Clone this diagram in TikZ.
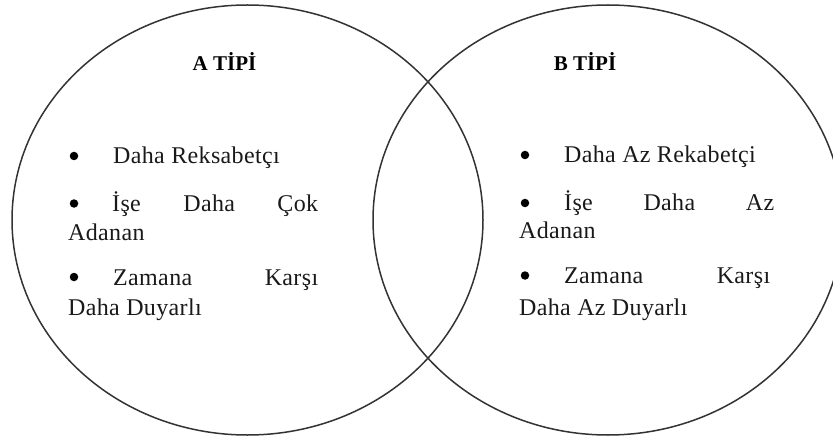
\documentclass[tikz,border=0pt]{standalone}
\usepackage{fontspec}
\setmainfont{Liberation Serif}
\newfontfamily\bodyfont[LetterSpace=1.5]{Liberation Serif}
\usetikzlibrary{shapes.geometric}
\tikzset{
  venn/.style={draw=black!80, line width=1.5pt, ellipse, inner sep=0pt},
  ttl/.style={font=\fontsize{21}{21}\selectfont\bfseries, anchor=base, inner sep=0pt},
  txt/.style={font=\bodyfont\fontsize{24}{24}\selectfont, anchor=base west, inner sep=0pt, text=black!90},
  bul/.style={circle, fill=black, minimum size=8.5pt, inner sep=0pt}
}
\begin{document}
\begin{tikzpicture}[x=1pt,y=-1pt]
\useasboundingbox (0,0) rectangle (833,441);
\clip (0,0) rectangle (833,441);
\node[venn, minimum width=471pt, minimum height=430pt] (A) at (247.5,220) {};
\node[venn, minimum width=470pt, minimum height=430pt] (B) at (608,220) {};
% left
\node[ttl] (tA) at (224.5,71) {A TİPİ};
\node[bul] (a1b) at (74,156) {};
\node[txt] (a1) at (113,164) {Daha Reksabetçı};
\node[bul] (a2b) at (74,203.5) {};
\node[txt] (a2) at (112,211.5) {\makebox[206pt][s]{İşe\hfill Daha\hfill Çok}};
\node[txt] (a2c) at (68,240) {Adanan};
\node[bul] (a3b) at (74,277) {};
\node[txt] (a3) at (113,285) {\makebox[205pt][s]{Zamana\hfill Karşı}};
\node[txt] (a3c) at (68,315) {Daha Duyarlı};
% right
\node[ttl] (tB) at (585,71) {B TİPİ};
\node[bul] (b1b) at (525,155) {};
\node[txt] (b1) at (564,163) {Daha Az Rekabetçi};
\node[bul] (b2b) at (525,203) {};
\node[txt] (b2) at (564,211) {\makebox[210pt][s]{İşe\hfill Daha\hfill Az}};
\node[txt] (b2c) at (519,238.5) {Adanan};
\node[bul] (b3b) at (525,275.5) {};
\node[txt] (b3) at (564,283.5) {\makebox[206pt][s]{Zamana\hfill Karşı}};
\node[txt] (b3c) at (519,315) {Daha Az Duyarlı};
\end{tikzpicture}
\end{document}
